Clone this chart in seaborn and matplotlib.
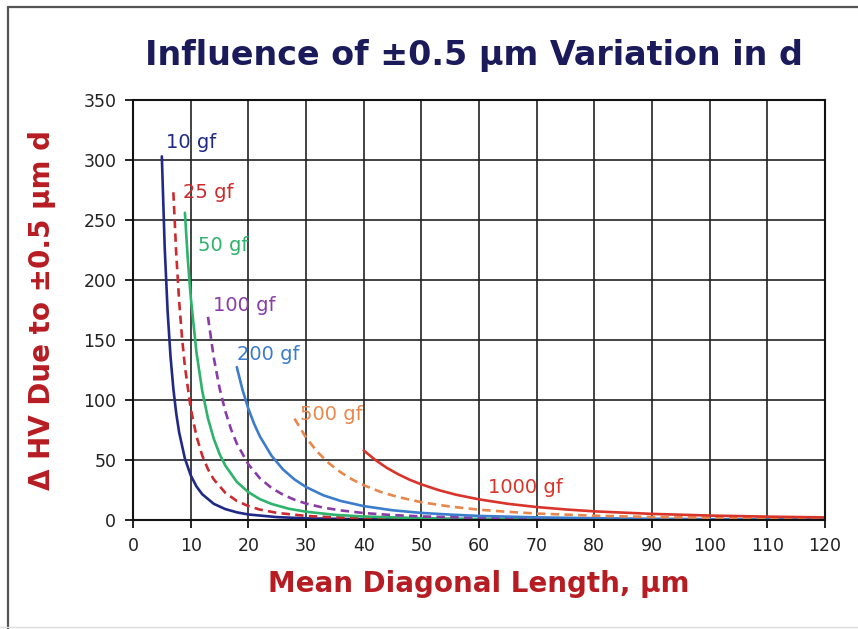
import matplotlib
matplotlib.use("Agg")
import matplotlib.pyplot as plt
from matplotlib.lines import Line2D
import pandas as pd
import seaborn as sns

# values (mean diagonal d in um, delta HV)
d_10gf = [5, 5.5, 6, 6.5, 7, 7.5, 8, 9, 10, 11, 12, 14, 16, 18, 20, 25, 30, 40, 60, 120]
hv_10gf = [303, 226.6, 174.1, 136.6, 109.2, 88.7, 73.0, 51.2, 37.3, 28.0, 21.5, 13.5, 9.1, 6.4, 4.6, 2.4, 1.4, 0.6, 0.2, 0.0]

d_25gf = [7, 7.5, 8, 8.5, 9, 10, 11, 12, 13, 14, 16, 18, 20, 22, 25, 30, 35, 40, 50, 60, 80, 120]
hv_25gf = [273.1, 221.7, 182.5, 152.0, 128.0, 93.2, 69.9, 53.8, 42.3, 33.9, 22.7, 15.9, 11.6, 8.7, 5.9, 3.4, 2.2, 1.5, 0.7, 0.4, 0.2, 0.05]

d_50gf = [9, 9.5, 10, 11, 12, 13, 14, 15, 16, 18, 20, 22, 24, 27, 30, 35, 40, 50, 60, 80, 120]
hv_50gf = [256.0, 217.5, 186.4, 139.9, 107.7, 84.7, 67.8, 55.1, 45.4, 31.8, 23.2, 17.4, 13.4, 9.4, 6.9, 4.3, 2.9, 1.5, 0.9, 0.4, 0.1]

d_100gf = [13, 14, 15, 16, 17, 18, 20, 22, 24, 26, 28, 30, 33, 36, 40, 45, 50, 60, 70, 80, 100, 120]
hv_100gf = [169.3, 135.5, 110.1, 90.7, 75.6, 63.7, 46.4, 34.8, 26.8, 21.1, 16.9, 13.7, 10.3, 8.0, 5.8, 4.1, 3.0, 1.7, 1.1, 0.7, 0.4, 0.2]

d_200gf = [18, 19, 20, 21, 22, 24, 26, 28, 30, 33, 36, 40, 45, 50, 55, 60, 70, 80, 90, 100, 120]
hv_200gf = [127.4, 108.3, 92.8, 80.2, 69.7, 53.7, 42.2, 33.8, 27.5, 20.6, 15.9, 11.6, 8.1, 5.9, 4.5, 3.4, 2.2, 1.5, 1.0, 0.7, 0.4]

d_500gf = [28, 30, 32, 34, 36, 38, 40, 43, 46, 50, 55, 60, 65, 70, 80, 90, 100, 110, 120]
hv_500gf = [84.5, 68.7, 56.6, 47.2, 39.8, 33.8, 29.0, 23.3, 19.1, 14.8, 11.2, 8.6, 6.8, 5.4, 3.6, 2.5, 1.9, 1.4, 1.1]

d_1000gf = [40, 42, 44, 46, 48, 50, 53, 56, 60, 65, 70, 75, 80, 90, 100, 110, 120]
hv_1000gf = [58.0, 50.1, 43.5, 38.1, 33.5, 29.7, 24.9, 21.1, 17.2, 13.5, 10.8, 8.8, 7.2, 5.1, 3.7, 2.8, 2.15]

load_labels = ["10 gf", "25 gf", "50 gf", "100 gf", "200 gf", "500 gf", "1000 gf"]
x_ticks = list(range(0, 121, 10))
y_ticks = list(range(0, 351, 50))

curves = [
    (d_10gf, hv_10gf, "#202a86", None, (5.7, 315)),
    (d_25gf, hv_25gf, "#cc2a2e", (3.2, 2.0), (8.7, 273)),
    (d_50gf, hv_50gf, "#2db36b", None, (11.3, 229)),
    (d_100gf, hv_100gf, "#8a3ca6", (3.2, 2.0), (13.9, 179)),
    (d_200gf, hv_200gf, "#3b7dcc", None, (18.0, 138)),
    (d_500gf, hv_500gf, "#e8874c", (3.2, 2.0), (29.0, 87.5)),
    (d_1000gf, hv_1000gf, "#d8342a", None, (61.5, 26.7)),
]

sns.set_style("white")
plt.rcParams["font.family"] = ["DejaVu Sans"]

fig = plt.figure(figsize=(8.58, 6.29), dpi=100)
ax = fig.add_axes([133 / 858, 1 - 520 / 629, (825 - 133) / 858, (520 - 100) / 629])

for (xs, ys, col, dash, pos), lab in zip(curves, load_labels):
    df = pd.DataFrame({"d": xs, "hv": ys})
    sns.lineplot(data=df, x="d", y="hv", color=col, lw=1.9, ax=ax)
    line = ax.lines[-1]
    if dash:
        line.set_dashes(dash)
    ax.text(pos[0], pos[1], lab, color=col, fontsize=14, va="center", ha="left")

ax.set_xlim(0, 120)
ax.set_ylim(0, 350)
ax.set_xticks(x_ticks)
ax.set_yticks(y_ticks)
ax.grid(True, color="#222222", lw=1.2)
ax.set_axisbelow(True)
for s in ax.spines.values():
    s.set_color("#111111")
    s.set_linewidth(1.5)
ax.tick_params(axis="both", direction="out", length=6, width=1.3, color="#111111",
               labelsize=12.5, labelcolor="#222222", pad=6)
ax.tick_params(axis="both", which="both", left=True, bottom=True)

ax.set_xlabel("Mean Diagonal Length, µm", fontsize=20, fontweight="bold", color="#b71c22", labelpad=11)
ax.set_ylabel("Δ HV Due to ±0.5 µm d", fontsize=20, fontweight="bold", color="#b71c22", labelpad=20)

fig.text(474 / 858, 1 - 56 / 629, "Influence of ±0.5 µm Variation in d", fontsize=24,
         fontweight="bold", color="#1b1b5c", ha="center", va="center")

# page frame
fig.add_artist(Line2D([8 / 858, 8 / 858], [0, 1 - 7 / 629], color="#555555", lw=1.6))
fig.add_artist(Line2D([8 / 858, 1], [1 - 7 / 629, 1 - 7 / 629], color="#555555", lw=1.6))
fig.add_artist(Line2D([0, 1], [2 / 629, 2 / 629], color="#dddddd", lw=1.0))

fig.savefig("out.png", dpi=100)
